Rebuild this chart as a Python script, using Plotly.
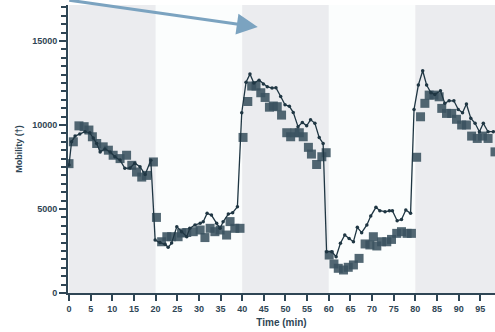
import plotly.graph_objects as go

# Line series (time in min, mobility)
t_line = [0, 0.6, 1.4, 2.5, 3.7, 4.8, 5.6, 6.4, 7.2, 8.3, 9.5, 10.6, 11.8, 12.9, 14.1, 15.2, 16.4, 17.6, 18.9,
          19.9, 21, 22.2, 22.9, 23.7, 24.9, 26, 27.2, 27.9, 29.1, 30.3, 31, 31.9, 32.9, 34.1, 34.9, 35.6, 36.8, 37.8, 38.9,
          39.9, 40.9, 41.8, 42.7, 43.9, 44.9, 45.8, 46.9, 47.8, 48.9, 49.9, 50.9, 51.8, 52.9, 53.9, 54.9, 55.8, 56.8, 57.8, 58.7,
          59.5, 60.7, 61.7, 62.7, 63.7, 64.7, 65.7, 66.6, 67.6, 68.8, 69.7, 70.9, 71.8, 73, 74, 74.7, 75.8, 76.8, 77.8, 78.9,
          79.7, 80.7, 81.7, 82.6, 83.6, 84.5, 85.8, 86.8, 87.8, 88.9, 89.9, 90.9, 91.8, 92.8, 93.8, 94.8, 95.7, 96.8, 98]
v_line = [7620, 9000, 9340, 9460, 9600, 9540, 9220, 8900, 8400, 8570, 8400, 8110, 7910, 7420, 7440, 7730, 7520, 7050, 7900,
          3150, 3000, 2900, 2720, 2970, 3950, 3650, 3350, 3850, 4050, 4150, 4240, 4740, 4640, 4150, 3850, 4240, 4700, 4780, 5130,
          10730, 12550, 13030, 12500, 12670, 12440, 12280, 12200, 12220, 11700, 11200, 11110, 10750, 9900, 10150, 9950, 10320, 10100, 9250, 8900,
          2460, 2460, 2160, 2960, 3450, 3250, 3050, 3910, 3590, 4050, 4580, 5100, 4900, 4840, 4900, 4900, 4300, 4380, 4940, 4740,
          10930, 12380, 13230, 12380, 11920, 11820, 12040, 11290, 11440, 11440, 10930, 10730, 11250, 10400, 10100, 9600, 10100, 9600, 9600]

# Square series
t_sq = [0, 1, 2.3, 3.5, 4.6, 5.4, 6.4, 7.9, 9.1, 10.2, 11.8, 13.3, 14.5, 15.6, 16.8, 17.9, 19.5,
        20.2, 21.4, 22.6, 23.7, 25.2, 26, 27.2, 28.7, 30.3, 31.4, 32.6, 33.7, 34.9, 36.4, 37.2, 38.3, 39.5,
        40.2, 41.3, 42.2, 43.2, 44.3, 45.3, 46.3, 47.2, 48.1, 49.1, 50.3, 51.2, 52.2, 53.2, 54.1, 55.3, 56, 57.2, 58.4, 59.4,
        60.1, 61.2, 62.2, 63.4, 64.5, 65.7, 67, 68.4, 69.5, 70.3, 71.1, 72.2, 73.4, 74.5, 75.7, 76.8, 78.1, 79.1,
        80.3, 81.2, 82.2, 83.2, 84.3, 85.5, 86.1, 87.2, 88.4, 89.5, 90.7, 91.8, 93, 94.3, 95.5, 96.8, 98.4]
v_sq = [7700, 9000, 9950, 9900, 9700, 9300, 8900, 8700, 8500, 8200, 8000, 8200, 7600, 7200, 6900, 7000, 7800,
        4500, 3050, 3350, 3350, 3350, 3570, 3600, 3650, 3750, 3300, 3850, 3650, 3750, 3450, 4250, 3850, 3850,
        9260, 11400, 12320, 12320, 11920, 11640, 11060, 11130, 11090, 10590, 9540, 9300, 9540, 9540, 9300, 8670, 8270, 7650, 8110, 8350,
        2260, 1730, 1470, 1370, 1530, 1670, 2060, 2920, 2860, 3350, 2800, 3050, 3050, 3190, 3550, 3650, 3550, 3550,
        8080, 10490, 11290, 11780, 11780, 11680, 10990, 10690, 10690, 10340, 10000, 10000, 9340, 9200, 9340, 9200, 8400]

bands = [(0, 20), (40, 60), (80, 100)]
y_max = 17143

axis_col = "#2F4655"
fig = go.Figure()

fig.add_trace(go.Scatter(x=t_sq, y=v_sq, mode="markers",
                         marker=dict(symbol="square", size=9, color="rgba(58,82,96,0.88)", line=dict(width=0)),
                         showlegend=False, hoverinfo="skip"))
fig.add_trace(go.Scatter(x=t_line, y=v_line, mode="lines+markers",
                         line=dict(color="#1F3643", width=1.3),
                         marker=dict(symbol="circle", size=3.5, color="#1F3643"),
                         showlegend=False))

for a, b in bands:
    fig.add_shape(type="rect", xref="x", yref="paper", x0=a, x1=b, y0=0, y1=1,
                  fillcolor="#EBECEF", line=dict(width=0), layer="below")

fig.add_annotation(x=43.6, y=15830, xref="x", yref="y", ax=-190, ay=-32, axref="pixel", ayref="pixel",
                   text="", showarrow=True, arrowhead=2, arrowsize=1.4, arrowwidth=3, arrowcolor="#7BA3C0")

fig.update_layout(
    width=495, height=332,
    margin=dict(l=68, r=0, t=5, b=39),
    paper_bgcolor="white", plot_bgcolor="#FBFDFD",
    font=dict(family="Liberation Sans, Arial", size=9, color=axis_col),
    xaxis=dict(range=[-0.23, 98.4], tickmode="linear", tick0=0, dtick=5, ticks="outside", ticklen=6, tickwidth=2,
               tickcolor=axis_col, showline=True, linecolor=axis_col, linewidth=2, showgrid=False,
               zeroline=False, tickfont=dict(size=9, color=axis_col),
               tickprefix="<b>", ticksuffix="</b>",
               title=dict(text="<b>Time (min)</b>", font=dict(size=10, color=axis_col), standoff=6)),
    yaxis=dict(range=[0, y_max], tickmode="linear", tick0=0, dtick=5000, tickformat="d",
               ticks="outside", ticklen=7, tickwidth=2,
               tickcolor=axis_col, showline=True, linecolor=axis_col, linewidth=2, showgrid=False,
               zeroline=False, tickfont=dict(size=9, color=axis_col),
               minor=dict(tick0=0, dtick=500, ticks="outside", ticklen=5, tickcolor=axis_col, tickwidth=2,
                          showgrid=False),
               tickprefix="<b>", ticksuffix="</b>",
               title=dict(text="<b>Mobility (†)</b>", font=dict(size=9, color=axis_col), standoff=8)),
)

fig.write_html("out.html")
